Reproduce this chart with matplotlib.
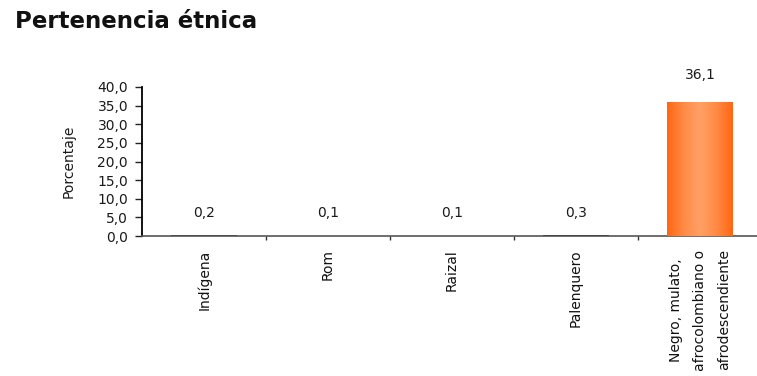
import numpy as np
import matplotlib.pyplot as plt
from matplotlib.colors import LinearSegmentedColormap

categories = ['Indígena', 'Rom', 'Raizal', 'Palenquero',
              'Negro, mulato,\nafrocolombiano o\nafrodescendiente']
values = [0.2, 0.1, 0.1, 0.3, 36.1]
bar_colors = ['#1f2a6b', '#111111', '#111111', '#111111', '#ff7a2e']
y_ticks = [0, 5, 10, 15, 20, 25, 30, 35, 40]

fig = plt.figure(figsize=(7.57, 3.76), dpi=100)
ax = fig.add_axes([142 / 757, 1 - 236 / 376, 620 / 757, 149 / 376])

x = np.arange(len(categories))
bars = ax.bar(x, values, width=0.53, color=bar_colors, zorder=2)

# horizontal gradient on the tall bar: darker orange at the edges, light in the middle
grad_cmap = LinearSegmentedColormap.from_list(
    'orange_grad', ['#ff6612', '#ff8a45', '#ffa066', '#ff8a45', '#ff6612'])
big = bars[-1]
bx, bw, bh = big.get_x(), big.get_width(), big.get_height()
img = ax.imshow(np.linspace(0, 1, 256).reshape(1, -1), cmap=grad_cmap,
                extent=[bx, bx + bw, 0, bh], aspect='auto', zorder=3)
img.set_clip_path(big)

ax.set_xlim(-0.5, len(categories) - 0.5)
ax.set_ylim(0, 40)

for xi, v in zip(x, values):
    ax.text(xi, v + 5.2 if v > 1 else 4.4, f'{v:.1f}'.replace('.', ','),
            ha='center', va='bottom', fontsize=10, color='#1a1a1a')

ax.set_yticks(y_ticks)
ax.set_yticklabels([f'{t:.1f}'.replace('.', ',') for t in y_ticks], fontsize=10,
                   color='#1a1a1a')
ax.tick_params(axis='y', length=5, width=1, pad=5, color='#222222')

# category boundary ticks below the baseline, labels centered under each bar
ax.set_xticks(np.arange(len(categories) - 1) + 0.5)
ax.set_xticklabels([])
ax.tick_params(axis='x', length=3, width=1, color='#333333')
for xi, lab in zip(x, categories):
    ax.text(xi, -3.6, lab, rotation=90, ha='center', va='top',
            fontsize=10, linespacing=1.95, color='#111111', multialignment='center')

ax.set_ylabel('Porcentaje', fontsize=10, labelpad=16, color='#1a1a1a')

for side in ['top', 'right']:
    ax.spines[side].set_visible(False)
ax.spines['left'].set_linewidth(1.3)
ax.spines['bottom'].set_color('#555555')
ax.spines['bottom'].set_linewidth(1.2)
ax.set_facecolor('none')

fig.text(15 / 757, 1 - 21 / 376, 'Pertenencia étnica', fontsize=16.5,
         fontweight='bold', ha='left', va='center', color='#111111')

fig.savefig('out.png', dpi=100)
